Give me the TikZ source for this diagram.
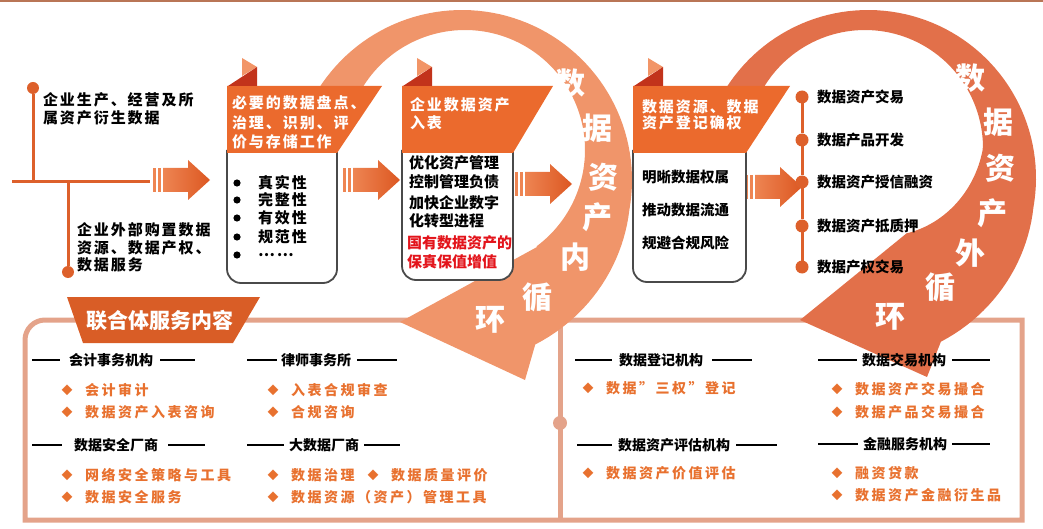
\documentclass[tikz,border=0pt]{standalone}
\usepackage{fontspec}
\setmainfont{Noto Sans CJK SC}
\usetikzlibrary{calc}
\definecolor{bannerC}{HTML}{EB6A2D}
\definecolor{tabL}{HTML}{F29567}
\definecolor{tabD}{HTML}{C2331B}
\definecolor{ringIn}{HTML}{F0956A}
\definecolor{ringOut}{HTML}{E2704A}
\definecolor{arrowC}{HTML}{DC5722}
\definecolor{arrowL}{HTML}{EE8552}
\definecolor{lineC}{HTML}{DD602B}
\definecolor{panelC}{HTML}{E4A38A}
\definecolor{ptabC}{HTML}{D95D26}
\definecolor{itemC}{HTML}{E8712F}
\definecolor{redC}{HTML}{E3141B}
\definecolor{topC}{HTML}{B97556}
\definecolor{boxC}{HTML}{4A4A4A}
\newcommand{\myfs}[2]{\fontsize{#1}{#2}\selectfont}
\newcommand{\blockarrow}[2]{%
  \fill[arrowL] ({#1},{#2-12}) rectangle ({#1+3},{#2+12});
  \fill[arrowL] ({#1+5},{#2-12}) rectangle ({#1+8},{#2+12});
  \shade[left color=arrowL,right color=arrowC] ({#1+10},{#2-12}) -- ({#1+35},{#2-12}) -- ({#1+35},{#2-20}) -- ({#1+57},{#2}) -- ({#1+35},{#2+20}) -- ({#1+35},{#2+12}) -- ({#1+10},{#2+12}) -- cycle;}
\newcommand{\bannerbox}[5]{% L, R(top right), Rb (bottom right / box right), box bottom
  \draw[boxline] (#1,150) -- (#1,#4) -- (#3,#4) -- (#3,150);
  \fill[bannerC] (#1,86) -- (#2,86) -- (#3,153) -- (#1,153) -- cycle;
  \fill[tabL] ({#1+15},58) -- ({#1+30},67) -- ({#1+15},76) -- cycle;
  \fill[tabD] ({#1+1},86) -- ({#1+30},67) -- ({#1+30},86) -- cycle;}
\begin{document}
\begin{tikzpicture}[x=1pt,y=-1pt,
  every node/.style={inner sep=0pt,outer sep=0pt},
  lbl/.style={anchor=west,align=left,font=\myfs{15}{18}\bfseries\addfontfeature{LetterSpace=13}},
  wlbl/.style={lbl,text=white},
  blk/.style={anchor=west,font=\myfs{14.5}{18}\bfseries},
  ringt/.style={text=white,font=\myfs{30}{30}\bfseries},
  hdr/.style={font=\myfs{14}{16}\bfseries},
  item/.style={anchor=west,text=itemC,font=\myfs{14}{16}\bfseries\addfontfeature{LetterSpace=18}},
  dia/.style={text=itemC,font=\myfs{11}{12}},
  hline/.style={line width=2.5pt},
  tl/.style={draw=lineC,line width=3pt},
  dot/.style={circle,fill=lineC,minimum size=13pt},
  boxline/.style={draw=boxC,line width=1.8pt,fill=white,rounded corners=14pt},
  panel/.style={draw=panelC,line width=5pt}]
\useasboundingbox (0,0) rectangle (1043,529);
% top rule
\draw[topC,line width=2pt] (0,1) -- (1043,1);
% bottom panel
\draw[panel] (1022,320) -- (45,320) arc[start angle=270,end angle=180,radius=20] -- (25,520) -- (1022,520) -- cycle;
\draw[panel] (560,320) -- (560,520);
\fill[panelC] (560,423) circle[radius=7pt];
% left timeline
\node[dot,minimum size=12pt] (d1) at (33,88) {};
\node[dot,minimum size=12pt] (d2) at (68,272) {};
\coordinate (j0) at (12,182);
\coordinate (j1) at (33,182);
\coordinate (j2) at (68,182);
\coordinate (j3) at (150,182);
\draw[tl] (d1) -- (j1);
\draw[tl] (j0) -- (j3);
\draw[tl] (j2) -- (d2);
\node[lbl] (src1) at (43,109) {企业生产、经营及所\\属资产衍生数据};
\node[lbl,font=\myfs{15}{17.5}\bfseries\addfontfeature{LetterSpace=13}] (src2) at (77,247.5) {企业外部购置数据\\资源、数据产权、\\数据服务};
% inner loop ring
\fill[ringIn] plot[domain=150:-66,samples=90,variable=\t] ({462+(170+0.18*max(0,-\t-10))*cos(\t)},{180-(170+0.18*max(0,-\t-10))*sin(\t)}) -- (525,380) -- (400,322) -- (537,247) -- plot[domain=-53.4:150,samples=90,variable=\t] ({465+120*cos(\t)},{150-120*sin(\t)}) -- cycle;
% outer loop ring
\fill[ringOut] plot[domain=150:-66,samples=90,variable=\t] ({868+(168+0.2*max(0,-\t-10))*cos(\t)},{178-(168+0.2*max(0,-\t-10))*sin(\t)}) -- (927,377) -- (800,320) -- (907,233) -- plot[domain=-63.7:150,samples=90,variable=\t] ({865+(118+0.36*min(0,\t))*cos(\t)},{148-(118+0.36*min(0,\t))*sin(\t)}) -- cycle;
% block arrows
\blockarrow{153}{180}
\blockarrow{343}{180}
\blockarrow{515}{184}
\blockarrow{745}{187}
% boxes
\bannerbox{227}{382}{337}{283}{}
\bannerbox{402}{553}{513}{280}{}
\bannerbox{633}{790}{746}{282}{}
\node[wlbl,font=\myfs{15}{19.5}\bfseries\addfontfeature{LetterSpace=13}] (b1) at (232,122.5) {必要的数据盘点、\\治理、识别、评\\价与存储工作};
\node[wlbl] (b2) at (410,114) {企业数据资产\\入表};
\node[wlbl,font=\myfs{15}{16.5}\bfseries\addfontfeature{LetterSpace=13}] (b3) at (642,115) {数据资源、数据\\资产登记确权};
% box 1 content
\foreach \yy/\tx [count=\i] in {183/真实性,200/完整性,218/有效性,237/规范性,255/……}{
  \fill (237,\yy) circle[radius=3.6pt];
  \node[lbl] (c1\i) at (258,\yy) {\tx};
}
% box 2 content
\node[blk,font=\myfs{15}{18}\bfseries] (c21) at (409,163) {优化资产管理};
\node[blk,font=\myfs{15}{18}\bfseries] (c22) at (409,182) {控制管理负债};
\node[blk,font=\myfs{15}{18}\bfseries] (c23) at (409,203) {加快企业数字};
\node[blk,font=\myfs{15}{18}\bfseries] (c24) at (409,221) {化转型进程};
\node[blk,font=\myfs{15}{18}\bfseries,text=redC] (c25) at (407,243) {国有数据资产的};
\node[blk,font=\myfs{15}{18}\bfseries,text=redC] (c26) at (407,262) {保真保值增值};
% box 3 content
\node[blk] (c31) at (642,177) {明晰数据权属};
\node[blk] (c32) at (642,210) {推动数据流通};
\node[blk] (c33) at (642,243) {规避合规风险};
% right list
\node[dot] (r1) at (802,97) {};
\node[dot] (r2) at (802,140) {};
\node[dot] (r3) at (802,182) {};
\node[dot] (r4) at (802,226) {};
\node[dot] (r5) at (802,267) {};
\draw[tl] (r1) -- (r2) -- (r3) -- (r4) -- (r5);
\node[blk] (l1) at (817,97) {数据资产交易};
\node[blk] (l2) at (817,140) {数据产品开发};
\node[blk] (l3) at (817,182) {数据资产授信融资};
\node[blk] (l4) at (817,226) {数据资产抵质押};
\node[blk] (l5) at (817,267) {数据产权交易};
% ring texts
\node[ringt] (ri1) at (570,83) {数};
\node[ringt] (ri2) at (597,128) {据};
\node[ringt] (ri3) at (603,177) {资};
\node[ringt] (ri4) at (597,217) {产};
\node[ringt] (ri5) at (575,257) {内};
\node[ringt] (ri6) at (537,297) {循};
\node[ringt] (ri7) at (490,320) {环};
\node[ringt] (ro1) at (970,78) {数};
\node[ringt] (ro2) at (998,122) {据};
\node[ringt] (ro3) at (1000,168) {资};
\node[ringt] (ro4) at (992,213) {产};
\node[ringt] (ro5) at (970,253) {外};
\node[ringt] (ro6) at (940,287) {循};
\node[ringt] (ro7) at (890,317) {环};
% panel tab
\fill[ptabC] (67,297) -- (260,297) -- (233,343) -- (83,343) -- cycle;
\node[text=white,font=\myfs{21}{22}\bfseries] (ptab) at (160,321) {联合体服务内容};
% headers
\node[hdr] (h1) at (111,360) {会计事务机构};
\draw[hline] (32,360) -- (60,360) (160,360) -- (195,360);
\node[hdr] (h2) at (316,360) {律师事务所};
\draw[hline] (247,360) -- (277,360) (357,360) -- (397,360);
\node[hdr] (h3) at (116,445) {数据安全厂商};
\draw[hline] (32,445) -- (62,445) (168,445) -- (205,445);
\node[hdr] (h4) at (324,445) {大数据厂商};
\draw[hline] (247,445) -- (284,445) (364,445) -- (400,445);
\node[hdr] (h5) at (661,360) {数据登记机构};
\draw[hline] (575,360) -- (612,360) (712,360) -- (752,360);
\node[hdr] (h6) at (674,445) {数据资产评估机构};
\draw[hline] (577,445) -- (612,445) (736,445) -- (777,445);
\node[hdr] (h7) at (904,360) {数据交易机构};
\draw[hline] (818,360) -- (857,360) (952,360) -- (990,360);
\node[hdr] (h8) at (905,444) {金融服务机构};
\draw[hline] (818,444) -- (858,444) (952,444) -- (990,444);
% items
\foreach \xx/\yy/\tx [count=\i] in {
  67/390/会计审计, 67/412/数据资产入表咨询, 67/475/网络安全策略与工具, 67/497/数据安全服务,
  273/390/入表合规审查, 273/412/合规咨询, 273/475/数据治理, 373/475/数据质量评价, 273/497/数据资源（资产）管理工具,
  588/388/数据”三权”登记, 588/473/数据资产价值评估,
  837/389/数据资产交易撮合, 837/412/数据产品交易撮合, 837/473/融资贷款, 837/495/数据资产金融衍生品}{
  \node[dia] (di\i) at (\xx,\yy) {◆};
  \node[item] (it\i) at (\xx+18,\yy) {\tx};
}
\end{tikzpicture}
\end{document}
